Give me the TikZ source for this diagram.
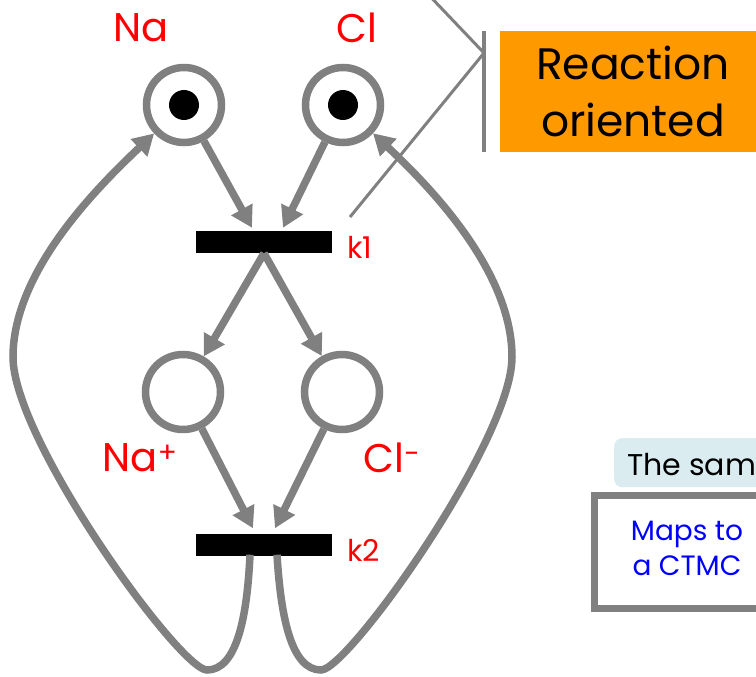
\documentclass[tikz,border=0pt]{standalone}
\usepackage{fontspec}
\setmainfont{Poppins}
\usetikzlibrary{arrows.meta,calc}
\definecolor{pgray}{RGB}{128,128,128}
\definecolor{porange}{RGB}{255,153,0}
\definecolor{pcyan}{RGB}{218,236,240}
\tikzset{
 place/.style={circle,draw=pgray,line width=7.5pt,minimum size=75pt,inner sep=0pt,fill=white},
 trans/.style={rectangle,fill=black,minimum width=136pt,minimum height=22pt,inner sep=0pt},
 arc/.style={draw=pgray,line width=7.5pt,-{Triangle[length=21pt,width=23pt]}},
 token/.style={circle,fill=black,minimum size=30pt,inner sep=0pt},
 lbl/.style={text=red,inner sep=0pt,font=\fontsize{40}{44}\selectfont},
 rate/.style={text=red,inner sep=0pt,anchor=west,font=\fontsize{30}{34}\selectfont},
 callout/.style={draw=pgray,line width=3pt},
}
\begin{document}
\begin{tikzpicture}[x=1pt,y=-1pt]
\useasboundingbox (0,0) rectangle (756,677);
\clip (0,0) rectangle (756,677);
% places
\node[place] (na) at (184,105) {};
\node[place] (cl) at (343,105) {};
\node[place] (nap) at (183,392) {};
\node[place] (clm) at (342,392) {};
\node[token] (natok) at (na) {};
\node[token] (cltok) at (cl) {};
% transitions
\node[trans] (k1) at (264,242) {};
\node[trans] (k2) at (264,544.5) {};
% labels
\node[lbl] (lna) at (141,28) {Na};
\node[lbl] (lcl) at (357,28) {Cl};
\node[lbl] (lnap) at (140,458) {Na\textsuperscript{+}};
\node[lbl] (lclm) at (392,458) {Cl\textsuperscript{-}};
\node[rate] (rk1) at (347,247) {k1};
\node[rate] (rk2) at (347,550) {k2};
% arcs
\draw[arc] (na) -- ($(k1.north)+(-12,-3)$);
\draw[arc] (cl) -- ($(k1.north)+(19,-3)$);
\draw[arc] (k1.south) -- (nap);
\draw[arc] (k1.south) -- (clm);
\draw[arc] (nap) -- ($(k2.north)+(-11,-5)$);
\draw[arc] (clm) -- ($(k2.north)+(11,-5)$);
\draw[arc] ($(k2.south)+(-14,-1)$) .. controls (247,620) and (236,670) .. (207,670)
   .. controls (180,670) and (13,440) .. (13,357)
   .. controls (13,270) and (100,185) .. (na);
\draw[arc] ($(k2.south)+(13,-1)$) .. controls (281,620) and (292,670) .. (321,670)
   .. controls (348,670) and (512,440) .. (512,357)
   .. controls (512,270) and (428,185) .. (cl);
% callout
\node[fill=porange,minimum width=266pt,minimum height=121pt,inner sep=0pt,align=center,
      font=\fontsize{44}{57}\selectfont] (react) at (633,91.5) {Reaction\\oriented};
\draw[draw=pgray,line width=4pt] (484,31) -- (484,152);
\coordinate (cv) at (484,53);
\coordinate (ctop) at (424,-10);
\coordinate (cend) at (350,217);
\draw[callout] (ctop) -- (cv) -- (cend);
% same box
\node[fill=pcyan,rounded corners=8pt,minimum width=170pt,minimum height=49pt,anchor=north west,inner sep=0pt] (samebg) at (614,438) {};
\node[anchor=base west,inner sep=0pt,font=\fontsize{30}{36}\selectfont] (same) at (627,475) {The sam};
% maps box
\node[draw=pgray,line width=7pt,fill=white,minimum width=200pt,minimum height=113pt,anchor=north west,inner sep=0pt] (mapsbox) at (590.5,491.5) {};
\node[text=blue,align=center,inner sep=0pt,font=\fontsize{28}{35}\selectfont] (maps) at (687,548) {Maps to\\a CTMC};
\end{tikzpicture}
\end{document}
